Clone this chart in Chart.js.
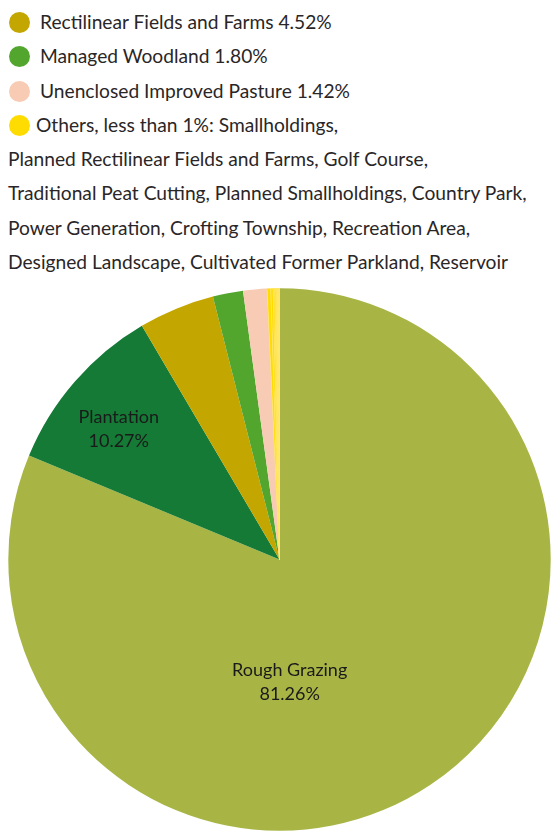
<!DOCTYPE html>
<html>
<head>
<meta charset="utf-8">
<script src="https://cdn.jsdelivr.net/npm/chart.js@4"></script>
<style>
  body { margin: 0; background: #fff; width: 552px; height: 831px; overflow: hidden; font-family: Lato, sans-serif; color: #2a2627; }
  #legend { position: absolute; left: 8px; top: 5px; font-size: 19.2px; }
  .row { height: 34.3px; line-height: 34.3px; white-space: nowrap; }
  .dot { display: inline-block; width: 21px; height: 21px; border-radius: 50%; vertical-align: -4px; margin-right: 10px; margin-left: 1px; }
  .dot.small { margin-right: 6px; }
  #wrap { position: absolute; left: 0; top: 288px; width: 552px; height: 543px; }
</style>
</head>
<body>
<div id="legend"></div>
<div id="wrap"><canvas id="land-use"></canvas></div>
<script>
const land_use_canvas = document.getElementById('land-use')

// main land use types, share of area in %
const categories = [
    'Rough Grazing',
    'Plantation',
    'Rectilinear Fields and Farms',
    'Managed Woodland',
    'Unenclosed Improved Pasture',
]
const values = [81.26, 10.27, 4.52, 1.80, 1.42]
const colors = ['#a8b545', '#147a36', '#c4a600', '#52a62e', '#f7cbb4']

// the small ones, grouped as they are written out in the legend
const other_lines = [
    ['Smallholdings'],
    ['Planned Rectilinear Fields and Farms', 'Golf Course'],
    ['Traditional Peat Cutting', 'Planned Smallholdings', 'Country Park'],
    ['Power Generation', 'Crofting Township', 'Recreation Area'],
    ['Designed Landscape', 'Cultivated Former Parkland', 'Reservoir'],
]
const other_values = [0.22, 0.14, 0.09, 0.07, 0.05, 0.04, 0.03, 0.03, 0.02, 0.02, 0.01, 0.01]
const other_color = '#ffdc00'

const other_names = other_lines.flat()

function fmt(v) {
    return v.toFixed(2) + '%'
}

function build_legend() {
    const legend = document.getElementById('legend')
    let html = ''
    for (let i = 2; i < categories.length; i++) {
        html += '<div class="row"><span class="dot" style="background:' + colors[i] + '"></span>' +
            categories[i] + ' ' + fmt(values[i]) + '</div>'
    }
    other_lines.forEach((line, i) => {
        const last = i === other_lines.length - 1
        const text = line.join(', ') + (last ? '' : ',')
        if (i === 0) {
            html += '<div class="row"><span class="dot small" style="background:' + other_color + '"></span>' +
                'Others, less than 1%: ' + text + '</div>'
        } else {
            html += '<div class="row">' + text + '</div>'
        }
    })
    legend.innerHTML = html
}

// writes the name and value inside the big slices
const slice_labels = {
    id: 'sliceLabels',
    afterDatasetsDraw: (chart, args, options) => {
        const { ctx } = chart
        const meta = chart.getDatasetMeta(0)
        ctx.save()
        ctx.font = '18px Lato, sans-serif'
        ctx.fillStyle = '#1a1a1a'
        ctx.textAlign = 'center'
        ctx.textBaseline = 'middle'
        options.items.forEach(item => {
            const arc = meta.data[item.index]
            const angle = (arc.startAngle + arc.endAngle) / 2 + item.shift * Math.PI / 180
            const r = arc.outerRadius * item.frac
            const x = arc.x + Math.cos(angle) * r
            const y = arc.y + Math.sin(angle) * r
            ctx.fillText(categories[item.index], x, y - 12)
            ctx.fillText(fmt(values[item.index]), x, y + 12)
        })
        ctx.restore()
    }
}

build_legend()

const all_values = values.concat(other_values)

new Chart(land_use_canvas, {
    type: 'pie',
    data: {
        labels: categories.concat(other_names),
        datasets: [{
            data: all_values,
            backgroundColor: colors.concat(other_values.map(() => other_color)),
            borderColor: colors.map(() => '#ffffff').concat(other_values.map(() => '#ffe873')),
            borderWidth: colors.map(() => 0).concat(other_values.map(() => 0.6)),
        }]
    },
    options: {
        responsive: true,
        maintainAspectRatio: false,
        animation: false,
        layout: { padding: { left: 7 } },
        plugins: {
            legend: { display: false },
            tooltip: { enabled: false },
            sliceLabels: {
                items: [
                    { index: 0, frac: 0.455, shift: 29 },
                    { index: 1, frac: 0.763, shift: -2 },
                ]
            }
        }
    },
    plugins: [slice_labels],
})
</script>
</body>
</html>
